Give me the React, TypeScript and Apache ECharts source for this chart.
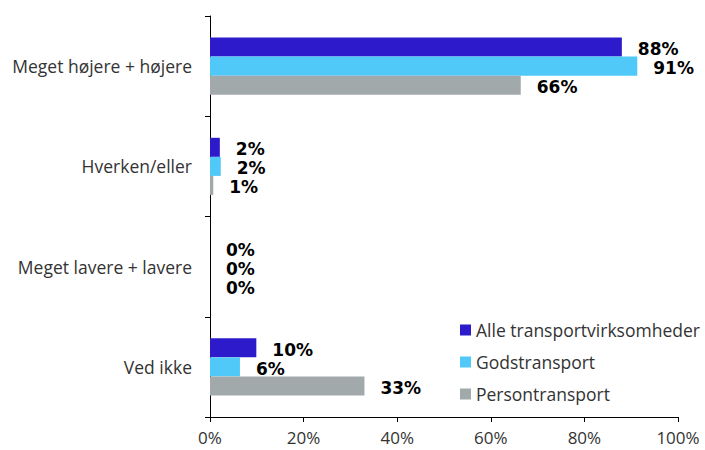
import React, { useEffect, useRef } from "react";
import * as echarts from "echarts";

const categories = ["Meget højere + højere", "Hverken/eller", "Meget lavere + lavere", "Ved ikke"];
const seriesNames = ["Alle transportvirksomheder", "Godstransport", "Persontransport"];
const alle = [88, 2.1, 0, 9.9];
const gods = [91.3, 2.3, 0, 6.4];
const person = [66.4, 0.7, 0, 33];
const xTicks = [0, 20, 40, 60, 80, 100];
const colors = ["#2C1ACB", "#50C8F8", "#A2A9AB"];

export default function App() {
  const ref = useRef<HTMLDivElement>(null);
  useEffect(() => {
    if (!ref.current) return;
    const chart = echarts.init(ref.current, null, { renderer: "svg" });
    const font = "Open Sans";
    const data = [alle, gods, person];
    chart.setOption({
      animation: false,
      grid: { left: 210, right: 27, top: 16, bottom: 33, containLabel: false },
      legend: {
        orient: "vertical",
        left: 455,
        top: 316,
        itemWidth: 11,
        itemHeight: 11,
        itemGap: 14,
        icon: "rect",
        textStyle: { fontFamily: font, fontSize: 17.5, color: "#333" },
        data: seriesNames,
      },
      xAxis: {
        type: "value",
        min: xTicks[0],
        max: xTicks[xTicks.length - 1],
        interval: 20,
        splitLine: { show: false },
        axisLine: { show: true, lineStyle: { color: "#000" } },
        axisTick: { show: true, length: 5, lineStyle: { color: "#000" } },
        axisLabel: {
          margin: 11,
          fontFamily: font,
          fontSize: 17,
          lineHeight: 18,
          color: "#333",
          formatter: (v: number) => v + "%",
        },
      },
      yAxis: {
        type: "category",
        inverse: true,
        data: categories,
        axisLine: { show: true, lineStyle: { color: "#000" } },
        axisTick: { show: true, length: 5, lineStyle: { color: "#000" } },
        axisLabel: { margin: 18, fontFamily: font, fontSize: 17.5, color: "#333" },
      },
      series: seriesNames.map((name, i) => ({
        name,
        type: "bar",
        data: data[i],
        barGap: "0%",
        barCategoryGap: "43%",
        itemStyle: { color: colors[i] },
        label: {
          show: true,
          position: "right",
          distance: 16,
          offset: [0, 2],
          fontFamily: "DejaVu Sans",
          fontWeight: "bold",
          fontSize: 17,
          color: "#000",
          formatter: (p: any) => Math.round(p.value) + "%",
        },
      })),
    });
    return () => chart.dispose();
  }, []);
  return <div ref={ref} style={{ width: 705, height: 450, position: "absolute", left: 0, top: 0 }} />;
}
